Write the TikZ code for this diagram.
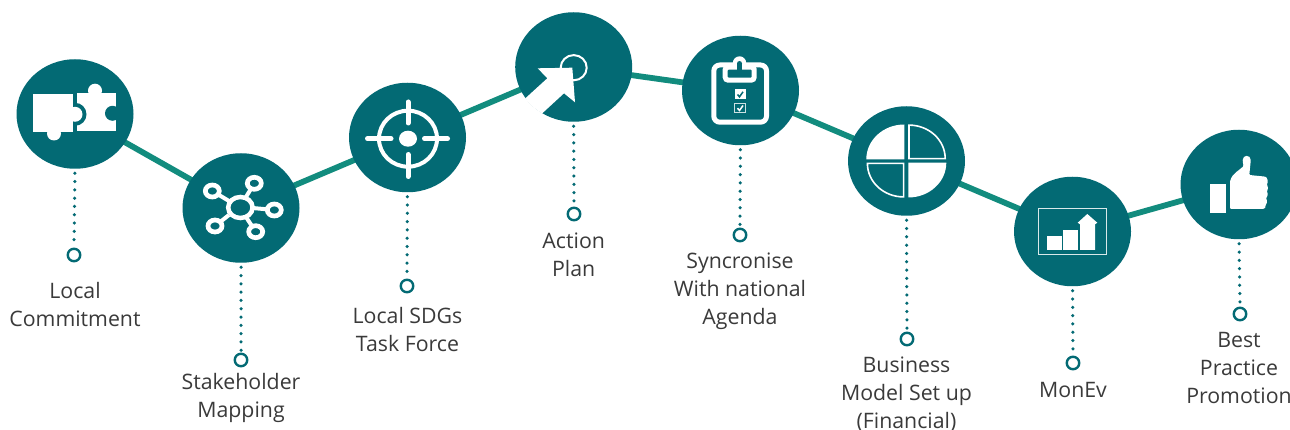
\documentclass[tikz,border=0pt]{standalone}
\usepackage{fontspec}
\setmainfont{Open Sans}
\usetikzlibrary{shapes.geometric,backgrounds}
\definecolor{teal1}{HTML}{036A74}
\definecolor{link}{HTML}{128C7E}
\definecolor{txt}{HTML}{3A3A3A}
\newcommand{\fl}{\rule{0pt}{15pt}}
\tikzset{
  stage/.style={ellipse,fill=teal1,minimum width=117pt,minimum height=109.5pt,inner sep=0pt},
  endring/.style={circle,draw=teal1,line width=2.4pt,fill=white,minimum size=12.5pt,inner sep=0pt},
  linkline/.style={draw=link,line width=5.8pt},
  dotline/.style={draw=teal1,line width=3.5pt,line cap=round,dash pattern=on 0pt off 8.3pt,dash phase=4pt},
  lab/.style={anchor=north,align=center,inner sep=0pt,text=txt,font=\fontsize{21.3}{28}\selectfont},
  iconline/.style={draw=white,line width=5pt,line cap=round},
}
\begin{document}
\begin{tikzpicture}[x=1pt,y=-1pt]
\useasboundingbox (0,0) rectangle (1290,430);
% stage circles
\node[stage] (n1) at (75,114) {};
\node[stage] (n2) at (241,208) {};
\node[stage] (n3) at (407.5,137.5) {};
\node[stage] (n4) at (573.7,67) {};
\node[stage] (n5) at (740.5,90.5) {};
\node[stage] (n6) at (906.5,161) {};
\node[stage] (n7) at (1072.5,231.5) {};
\node[stage] (n8) at (1239,184.5) {};
% end rings
\node[endring] (t1) at (74,255) {};
\node[endring] (t2) at (241,360) {};
\node[endring] (t3) at (407,286) {};
\node[endring] (t4) at (574,214) {};
\node[endring] (t5) at (740,235) {};
\node[endring] (t6) at (907,339) {};
\node[endring] (t7) at (1073,363) {};
\node[endring] (t8) at (1240,314) {};
% connectors
\begin{scope}[on background layer]
\fill[white] (0,0) rectangle (1290,430);
\draw[linkline] (n1.center) -- (n2.center);
\draw[linkline] (n2.center) -- (n3.center);
\draw[linkline] (n3.center) -- (n4.center);
\draw[linkline] (n4.center) -- (n5.center);
\draw[linkline] (n5.center) -- (n6.center);
\draw[linkline] (n6.center) -- (n7.center);
\draw[linkline] (n7.center) -- (n8.center);
\foreach \i in {1,...,8} \draw[dotline] (n\i.south) -- (t\i.north);
\end{scope}
% labels
\node[lab] (l1) at (75,282.3) {\fl Local\\Commitment};
\node[lab] (l2) at (241,373.3) {\fl Stakeholder\\Mapping};
\node[lab] (l3) at (407.5,307) {\fl Local SDGs\\Task Force};
\node[lab] (l4) at (573.7,233) {\fl Action\\Plan};
\node[lab] (l5) at (740,253) {\fl Syncronise\\With national\\Agenda};
\node[lab] (l6) at (906.5,357) {\fl Business\\Model Set up\\(Financial)};
\node[lab] (l7) at (1073,382) {\fl MonEv};
\node[lab] (l8) at (1239,332) {\fl Best\\Practice\\Promotion};
% puzzle
\fill[white] (76.7,93.3) rectangle (115.7,131.3);
\fill[white] (95,90.7) circle[radius=7pt];
\fill[teal1] (112.5,113.3) circle[radius=7.5pt];
\fill[teal1] (75,114.3) circle[radius=11.5pt];
\fill[white] (33.3,94.3) rectangle (73.3,132);
\fill[white] (54,133.5) circle[radius=7pt];
\fill[white] (75,114.3) circle[radius=7.5pt];
% hub
\foreach \x/\y/\a/\b in {254.3/183.3/246/197,274.3/210/252.5/208,255.7/231.7/246/217,215/226/229/215,212.3/191/229/201}{
  \draw[white,line width=4pt] (\a,\b) -- (\x,\y);
  \fill[teal1] (\x,\y) ellipse[x radius=6pt,y radius=5.5pt];
  \draw[white,line width=4.7pt] (\x,\y) ellipse[x radius=7pt,y radius=6pt];
}
\fill[teal1] (240.4,207.5) ellipse[x radius=12pt,y radius=10.5pt];
\draw[white,line width=4.5pt] (240.4,207.5) ellipse[x radius=12.2pt,y radius=10.5pt];
% target
\draw[white,line width=4pt] (408,138.7) ellipse[x radius=29pt,y radius=28pt];
\fill[white] (408,138.7) ellipse[x radius=9pt,y radius=8pt];
\draw[iconline] (408,102) -- (408,123);
\draw[iconline] (408,154.5) -- (408,176.5);
\draw[iconline] (367.5,138.7) -- (391,138.7);
\draw[iconline] (424.5,138.7) -- (447.5,138.7);
% action plan arrow
\draw[white,line width=2pt] (573.7,67.7) ellipse[x radius=13pt,y radius=12.6pt];
\begin{scope}
\clip (573.7,67) ellipse[x radius=59pt,y radius=55pt];
\fill[white] (537.7,68.3) -- (572.3,67.7) -- (575,102.3) -- (564,93.3) -- (535,120) -- (518,105) -- (547.3,78.3) -- cycle;
\end{scope}
% clipboard
\draw[white,line width=5pt,rounded corners=6pt] (713.8,65) rectangle (766.5,122.2);
\fill[white,rounded corners=5pt] (722.7,64) rectangle (756.7,82.7);
\fill[white] (739.5,63) circle[radius=6.7pt];
\fill[teal1,rounded corners=1pt] (727.7,69.7) rectangle (751.7,77.7);
\fill[teal1] (739.5,63.5) circle[radius=2.5pt];
\fill[teal1] (737.3,63.5) rectangle (741.7,70);
\fill[white] (735,89.3) rectangle (745.7,99);
\draw[teal1,line width=1.5pt] (737.5,94.5) -- (739.5,96.8) -- (743,91.8);
\draw[white!80!teal1,line width=.9pt] (734.9,103) rectangle (745.7,112.7);
\draw[white,line width=1.5pt] (737.5,108.2) -- (739.5,110.5) -- (743,105.5);
% pie
\fill[white] (904.3,159.3) -- (866.3,159.3) arc[start angle=180,end angle=90,x radius=38pt,y radius=34.8pt] -- cycle;
\fill[white] (908.3,162.7) -- (946.3,162.7) arc[start angle=0,end angle=-90,x radius=38pt,y radius=34.8pt] -- cycle;
\draw[white,line width=1.6pt,line join=miter] (909,158.6) -- (945.2,158.6) arc[start angle=0,end angle=90,x radius=36.2pt,y radius=33.5pt] -- cycle;
\draw[white,line width=1.6pt,line join=miter] (903.6,163.4) -- (867.4,163.4) arc[start angle=180,end angle=270,x radius=36.2pt,y radius=33.5pt] -- cycle;
% chart
\draw[white!85!teal1,line width=1pt] (1038.7,208.7) rectangle (1106.7,254.7);
\fill[white] (1047,236) rectangle (1062,250);
\fill[white] (1063,230) rectangle (1078,250);
\fill[white] (1080,250) -- (1080,224.3) -- (1077.7,222.7) -- (1087.3,214) -- (1097.3,222.7) -- (1095,224.3) -- (1095,250) -- cycle;
% thumb
\fill[white] (1210,184) rectangle (1226,212.7);
\fill[white,rounded corners=1pt] (1230,209) -- (1230,182)
  .. controls (1232,173) and (1240,170) .. (1243.5,166)
  -- (1242.7,161) .. controls (1242.7,154.5) and (1250.7,154.5) .. (1250.7,161)
  -- (1249.3,175) -- (1264,176.5)
  .. controls (1268,177) and (1268,183) .. (1266.5,184.5)
  .. controls (1268,186) and (1268,190) .. (1266.5,191.5)
  .. controls (1268,193) and (1268,197) .. (1265.5,198.5)
  .. controls (1267.5,200) and (1267,204) .. (1265,205)
  .. controls (1266,207) and (1265,209) .. (1262,209) -- cycle;
\end{tikzpicture}
\end{document}
